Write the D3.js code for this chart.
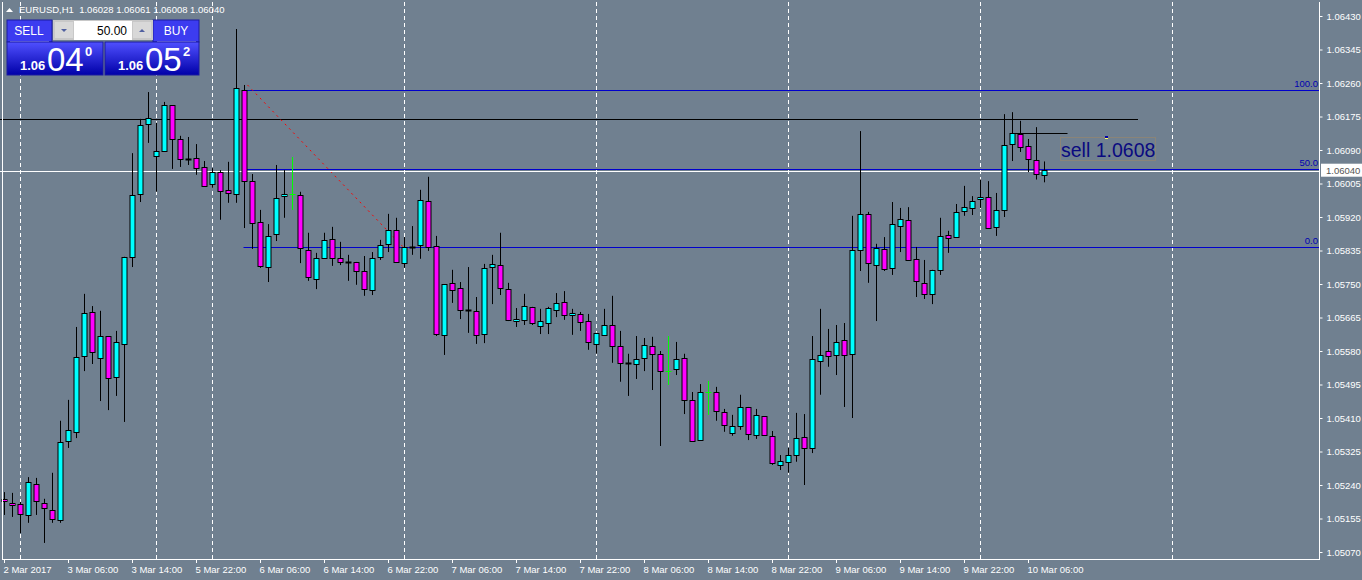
<!DOCTYPE html>
<html><head><meta charset="utf-8">
<script src="https://cdn.jsdelivr.net/npm/d3@7/dist/d3.min.js"></script>
<style>body{margin:0;background:#708090;overflow:hidden}svg{display:block}</style>
</head><body>
<svg id="c" width="1362" height="580"></svg>
<script>
// OHLC hourly candles EURUSD H1
const opens=[1.05205,1.05195,1.05192,1.05164,1.05243,1.05195,1.05177,1.05151,1.05352,1.05375,1.05567,1.05679,1.05562,1.05618,1.05514,1.05598,1.05819,1.05978,1.06156,1.06075,1.06088,1.06204,1.06118,1.06067,1.06070,1.06047,1.06004,1.06034,1.05989,1.05978,1.06242,1.06011,1.05907,1.05793,1.05877,1.05973,1.05978,1.05976,1.05836,1.05763,1.05816,1.05864,1.05816,1.05806,1.05806,1.05783,1.05735,1.05819,1.05852,1.05887,1.05803,1.05844,1.05849,1.05961,1.05846,1.05621,1.05753,1.05740,1.05684,1.05682,1.05623,1.05793,1.05798,1.05737,1.05656,1.05659,1.05692,1.05644,1.05651,1.05684,1.05704,1.05671,1.05674,1.05656,1.05598,1.05621,1.05646,1.05593,1.05550,1.05547,1.05562,1.05593,1.05573,1.05529,1.05534,1.05562,1.05456,1.05354,1.05476,1.05476,1.05425,1.05372,1.05390,1.05438,1.05367,1.05415,1.05365,1.05291,1.05299,1.05316,1.05362,1.05334,1.05555,1.05580,1.05570,1.05608,1.05573,1.05836,1.05928,1.05798,1.05839,1.05791,1.05897,1.05913,1.05814,1.05753,1.05725,1.05786,1.05874,1.05869,1.05935,1.05943,1.05966,1.05971,1.05895,1.05938,1.06105,1.06131,1.06100,1.06065,1.06028];
const highs=[1.05222,1.05220,1.05197,1.05260,1.05258,1.05205,1.05271,1.05403,1.05456,1.05641,1.05725,1.05694,1.05682,1.05618,1.05631,1.05819,1.06082,1.06169,1.06237,1.06159,1.06212,1.06204,1.06126,1.06123,1.06105,1.06062,1.06044,1.06039,1.06060,1.06397,1.06255,1.06029,1.05938,1.05902,1.06052,1.06039,1.06072,1.05984,1.05880,1.05829,1.05880,1.05895,1.05857,1.05824,1.05806,1.05821,1.05831,1.05862,1.05928,1.05918,1.05869,1.05897,1.05989,1.06022,1.05872,1.05750,1.05786,1.05755,1.05793,1.05717,1.05801,1.05824,1.05880,1.05753,1.05689,1.05725,1.05692,1.05687,1.05692,1.05727,1.05732,1.05687,1.05679,1.05674,1.05626,1.05687,1.05720,1.05631,1.05573,1.05618,1.05613,1.05616,1.05580,1.05618,1.05603,1.05573,1.05476,1.05496,1.05504,1.05489,1.05433,1.05418,1.05469,1.05438,1.05433,1.05415,1.05377,1.05316,1.05334,1.05423,1.05420,1.05618,1.05687,1.05636,1.05646,1.05651,1.05923,1.06138,1.05933,1.05852,1.05869,1.05958,1.05943,1.05945,1.05844,1.05811,1.05786,1.05918,1.05885,1.05953,1.05999,1.05973,1.06015,1.06011,1.05981,1.06181,1.06186,1.06164,1.06118,1.06148,1.06061];
const lows=[1.05164,1.05159,1.05118,1.05144,1.05164,1.05093,1.05144,1.05144,1.05334,1.05359,1.05529,1.05547,1.05453,1.05430,1.05466,1.05400,1.05793,1.05958,1.06108,1.05984,1.06088,1.06042,1.06047,1.06052,1.06027,1.05999,1.05994,1.05913,1.05956,1.05956,1.05892,1.05839,1.05791,1.05755,1.05859,1.05918,1.05938,1.05803,1.05758,1.05737,1.05816,1.05796,1.05798,1.05758,1.05748,1.05720,1.05722,1.05811,1.05831,1.05806,1.05791,1.05824,1.05814,1.05834,1.05618,1.05570,1.05702,1.05661,1.05626,1.05598,1.05600,1.05699,1.05722,1.05656,1.05641,1.05646,1.05646,1.05623,1.05623,1.05666,1.05659,1.05621,1.05631,1.05583,1.05573,1.05618,1.05550,1.05502,1.05466,1.05509,1.05529,1.05481,1.05339,1.05494,1.05519,1.05420,1.05352,1.05352,1.05418,1.05403,1.05375,1.05365,1.05380,1.05354,1.05357,1.05365,1.05291,1.05278,1.05271,1.05299,1.05240,1.05321,1.05469,1.05540,1.05519,1.05438,1.05410,1.05783,1.05753,1.05656,1.05783,1.05773,1.05831,1.05811,1.05717,1.05712,1.05699,1.05773,1.05829,1.05867,1.05923,1.05925,1.05943,1.05892,1.05872,1.05920,1.06062,1.06085,1.06034,1.06015,1.06008];
const closes=[1.05200,1.05189,1.05167,1.05248,1.05200,1.05182,1.05154,1.05349,1.05380,1.05565,1.05677,1.05578,1.05618,1.05512,1.05603,1.05819,1.05976,1.06154,1.06171,1.06088,1.06204,1.06118,1.06067,1.06067,1.06044,1.05999,1.06034,1.05986,1.05981,1.06247,1.06011,1.05905,1.05796,1.05872,1.05968,1.05978,1.05978,1.05841,1.05768,1.05816,1.05862,1.05816,1.05806,1.05806,1.05783,1.05737,1.05816,1.05849,1.05887,1.05806,1.05844,1.05844,1.05963,1.05844,1.05623,1.05750,1.05735,1.05684,1.05684,1.05621,1.05791,1.05801,1.05740,1.05659,1.05661,1.05694,1.05651,1.05656,1.05689,1.05702,1.05671,1.05677,1.05654,1.05603,1.05626,1.05646,1.05593,1.05550,1.05550,1.05560,1.05595,1.05573,1.05529,1.05529,1.05560,1.05456,1.05352,1.05476,1.05476,1.05428,1.05392,1.05390,1.05438,1.05370,1.05418,1.05367,1.05296,1.05301,1.05316,1.05359,1.05334,1.05560,1.05570,1.05567,1.05603,1.05570,1.05836,1.05928,1.05803,1.05841,1.05788,1.05902,1.05915,1.05811,1.05758,1.05725,1.05786,1.05872,1.05867,1.05933,1.05945,1.05961,1.05971,1.05892,1.05938,1.06103,1.06133,1.06098,1.06067,1.06029,1.06040];
const greenDoji=[36,83,88];
const timeLabels=["2 Mar 2017","3 Mar 06:00","3 Mar 14:00","5 Mar 22:00","6 Mar 06:00","6 Mar 14:00","6 Mar 22:00","7 Mar 06:00","7 Mar 14:00","7 Mar 22:00","8 Mar 06:00","8 Mar 14:00","8 Mar 22:00","9 Mar 06:00","9 Mar 14:00","9 Mar 22:00","10 Mar 06:00"];
const labelBars=[0,8,16,24,32,40,48,56,64,72,80,88,96,104,112,120,128];
const separatorBars=[2,19,26,50,74,98,122,146];
const priceTicks=[1.06430,1.06345,1.06260,1.06175,1.06090,1.06005,1.05920,1.05835,1.05750,1.05665,1.05580,1.05495,1.05410,1.05325,1.05240,1.05155,1.05070];
const bid=1.06040;
const resistance=1.06168;
const fibLevels=[{name:"100.0",p:1.06242},{name:"50.0",p:1.06042},{name:"0.0",p:1.05843}];
const fibStartBar=30, fibTrendEnd={bar:50,p:1.05843}, fibTrendStart={bar:30,p:1.06255};
const orderLine={p:1.06133,from:126,to:133};
const header="EURUSD,H1  1.06028 1.06061 1.06008 1.06040";

const svg=d3.select("#c");
const R=1319, B=559, F="Liberation Sans, Arial, sans-serif";
const y=d3.scaleLinear().domain([1.0507,1.0643]).range([552,16]);
const x=d3.scaleLinear().domain([0,1]).range([3.5,11.5]);
const px=v=>Math.round(v)+0.5;

const g=svg.append("g");
// separators
separatorBars.forEach(b=>g.append("line").attr("x1",px(x(b))).attr("x2",px(x(b))).attr("y1",2).attr("y2",B)
 .attr("stroke","#fff").attr("stroke-dasharray","4,3"));
// resistance line
g.append("line").attr("x1",0).attr("x2",1138).attr("y1",px(y(resistance))).attr("y2",px(y(resistance))).attr("stroke","#000");
// fib
fibLevels.forEach(f=>{
 g.append("line").attr("x1",x(fibStartBar)).attr("x2",R).attr("y1",px(y(f.p))).attr("y2",px(y(f.p))).attr("stroke","#0000cc");
 g.append("text").attr("x",R-1).attr("y",y(f.p)-3).attr("text-anchor","end").attr("fill","#0000b0").attr("font-family",F).attr("font-size",9.5).text(f.name);
});
g.append("line").attr("x1",x(fibTrendStart.bar)+4).attr("y1",y(fibTrendStart.p)).attr("x2",x(fibTrendEnd.bar)).attr("y2",y(fibTrendEnd.p))
 .attr("stroke","#ff0000").attr("stroke-dasharray","2,4");
// bid line
g.append("line").attr("x1",0).attr("x2",R).attr("y1",px(y(bid))+1).attr("y2",px(y(bid))+1).attr("stroke","#fff");
// candles
const data=opens.map((o,i)=>({i,o,h:highs[i],l:lows[i],c:closes[i]}));
data.forEach(d=>{
 const cx=px(x(d.i));
 const green=greenDoji.includes(d.i);
 const wc=green?"#00ff00":"#000";
 g.append("line").attr("x1",cx).attr("x2",cx).attr("y1",y(d.h)).attr("y2",y(d.l)).attr("stroke",wc);
 const top=y(Math.max(d.o,d.c)), bot=y(Math.min(d.o,d.c));
 if(Math.abs(d.o-d.c)<0.000005){
   g.append("line").attr("x1",cx-3).attr("x2",cx+3).attr("y1",px(top)).attr("y2",px(top)).attr("stroke",wc).attr("stroke-width",green?1:2);
 } else {
   g.append("rect").attr("x",cx-2.5).attr("y",Math.round(top)+0.5).attr("width",5).attr("height",Math.max(2,Math.round(bot-top)))
    .attr("fill",d.c>d.o?"#00ffff":"#ff00ff").attr("stroke","#000");
 }
});
// order line & label
g.append("line").attr("x1",x(orderLine.from)).attr("x2",x(orderLine.to)).attr("y1",px(y(orderLine.p))).attr("y2",px(y(orderLine.p))).attr("stroke","#000");
g.append("rect").attr("x",1060.5).attr("y",137.5).attr("width",95).attr("height",23).attr("fill","none").attr("stroke","#8a8478");
g.append("text").attr("x",1061).attr("y",157).attr("fill","#0a0a80").attr("font-family",F).attr("font-size",19.5).text("sell 1.0608");
g.append("rect").attr("x",1105).attr("y",136).attr("width",3).attr("height",2).attr("fill","#0000aa");
g.append("rect").attr("x",1105).attr("y",138).attr("width",3).attr("height",1).attr("fill","#ffff66");

// axes frame
svg.append("line").attr("x1",2.5).attr("x2",2.5).attr("y1",2).attr("y2",B).attr("stroke","#fff");
svg.append("line").attr("x1",R+0.5).attr("x2",R+0.5).attr("y1",2).attr("y2",B).attr("stroke","#fff");
svg.append("line").attr("x1",2).attr("x2",R+1).attr("y1",B+0.5).attr("y2",B+0.5).attr("stroke","#fff");
const ya=svg.append("g").attr("transform",`translate(${R+0.5},0)`)
 .call(d3.axisRight(y).tickValues(priceTicks).tickSize(3).tickPadding(4).tickFormat(d3.format(".5f")));
ya.select(".domain").remove();
ya.selectAll("line").attr("stroke","#fff");
ya.selectAll("text").attr("fill","#fff").attr("font-family",F).attr("font-size",9.5);
// bid label
svg.append("rect").attr("x",R+2).attr("y",y(bid)-6).attr("width",43).attr("height",13).attr("fill","#fff");
svg.append("text").attr("x",R+7).attr("y",y(bid)+4).attr("fill","#555").attr("font-family",F).attr("font-size",9.5).text(d3.format(".5f")(bid));
// x labels
labelBars.forEach((b,k)=>{
 const xx=px(x(b));
 svg.append("line").attr("x1",xx).attr("x2",xx).attr("y1",B).attr("y2",B+4).attr("stroke","#fff");
 svg.append("text").attr("x",xx-1).attr("y",573).attr("fill","#fff").attr("font-family",F).attr("font-size",9.5).text(timeLabels[k]);
});

// header & trade panel
svg.append("path").attr("d","M6,12 L9.5,8 L13,12 Z").attr("fill","#fff");
svg.append("text").attr("x",19).attr("y",13).attr("fill","#fff").attr("font-family",F).attr("font-size",9.5).attr("xml:space","preserve").text(header);
const defs=svg.append("defs");
const gr=defs.append("linearGradient").attr("id","bg").attr("x1",0).attr("x2",0).attr("y1",0).attr("y2",1);
gr.append("stop").attr("offset","0%").attr("stop-color","#5050ff");
gr.append("stop").attr("offset","100%").attr("stop-color","#0000a8");
svg.append("rect").attr("x",7).attr("y",20).attr("width",45).attr("height",22).attr("fill","#3c3cf0").attr("stroke","#1a1aa0");
svg.append("rect").attr("x",153).attr("y",20).attr("width",46).attr("height",22).attr("fill","#3c3cf0").attr("stroke","#1a1aa0");
svg.append("rect").attr("x",53).attr("y",20).attr("width",100).attr("height",20).attr("fill","#c8c8c8");
svg.append("rect").attr("x",55).attr("y",22).attr("width",18).attr("height",16).attr("fill","#d8d8d8");
svg.append("rect").attr("x",74).attr("y",21).attr("width",58).attr("height",19).attr("fill","#fff");
svg.append("rect").attr("x",133).attr("y",22).attr("width",18).attr("height",16).attr("fill","#d8d8d8");
svg.append("path").attr("d","M61,29 L67,29 L64,32 Z").attr("fill","#5060a0");
svg.append("path").attr("d","M139,32 L145,32 L142,29 Z").attr("fill","#5060a0");
svg.append("text").attr("x",127).attr("y",35).attr("text-anchor","end").attr("font-family",F).attr("font-size",12).attr("fill","#000").text("50.00");
svg.append("text").attr("x",29).attr("y",35).attr("text-anchor","middle").attr("font-family",F).attr("font-size",12).attr("fill","#fff").text("SELL");
svg.append("text").attr("x",176).attr("y",35).attr("text-anchor","middle").attr("font-family",F).attr("font-size",12).attr("fill","#fff").text("BUY");
svg.append("line").attr("x1",10).attr("x2",49).attr("y1",41.5).attr("y2",41.5).attr("stroke","#9090ff");
svg.append("line").attr("x1",157).attr("x2",196).attr("y1",41.5).attr("y2",41.5).attr("stroke","#9090ff");
[[7,"1.06","04","0"],[105,"1.06","05","2"]].forEach(([x0,a,b,c])=>{
 svg.append("rect").attr("x",x0).attr("y",42).attr("width",x0===7?96:94).attr("height",33).attr("fill","url(#bg)").attr("stroke","#1a1aa0");
 svg.append("text").attr("x",x0+13).attr("y",70).attr("font-family",F).attr("font-size",13).attr("font-weight","bold").attr("fill","#fff").text(a);
 svg.append("text").attr("x",x0+40).attr("y",71).attr("font-family",F).attr("font-size",33).attr("fill","#fff").text(b);
 svg.append("text").attr("x",x0+78).attr("y",56).attr("font-family",F).attr("font-size",13).attr("font-weight","bold").attr("fill","#fff").text(c);
});
</script></body></html>
